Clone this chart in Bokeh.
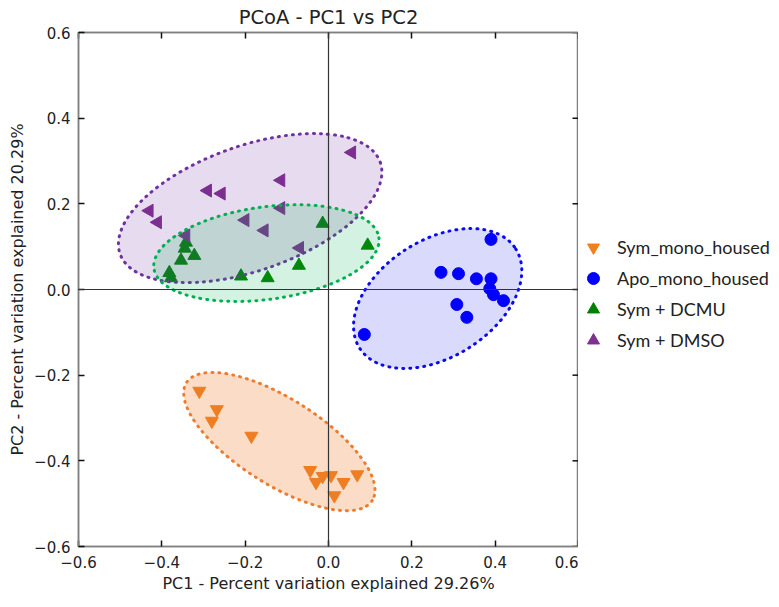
import numpy as np
from bokeh.plotting import figure
from bokeh.layouts import row
from bokeh.models import (LinearAxis, Span, Legend, LegendItem, Range1d,
                          FixedTicker, CustomJSTickFormatter)
from bokeh.embed import file_html
from bokeh.resources import INLINE

# ---- data ----
groups = ["Sym_mono_housed", "Apo_mono_housed", "Sym + DCMU", "Sym + DMSO"]

sym_x = [-0.310, -0.268, -0.280, -0.185, -0.044, -0.030, -0.014, 0.006, 0.036, 0.069, 0.014]
sym_y = [-0.237, -0.280, -0.307, -0.342, -0.422, -0.450, -0.436, -0.434, -0.450, -0.432, -0.481]

apo_x = [0.390, 0.270, 0.312, 0.355, 0.390, 0.387, 0.396, 0.420, 0.308, 0.332, 0.086]
apo_y = [0.117, 0.040, 0.037, 0.025, 0.025, 0.002, -0.012, -0.026, -0.035, -0.065, -0.105]

dcmu_x = [-0.014, 0.094, -0.071, -0.146, -0.210, -0.322, -0.354, -0.342, -0.345, -0.382, -0.378]
dcmu_y = [0.154, 0.103, 0.056, 0.027, 0.031, 0.079, 0.068, 0.110, 0.096, 0.039, 0.027]

dmso_x = [0.056, -0.114, -0.290, -0.257, -0.430, -0.410, -0.114, -0.200, -0.154, -0.069, -0.342]
dmso_y = [0.320, 0.255, 0.231, 0.224, 0.184, 0.157, 0.190, 0.162, 0.138, 0.097, 0.126]

tick_values = [-0.6, -0.4, -0.2, 0.0, 0.2, 0.4, 0.6]

# hand-drawn group ellipses (annotation shapes), in data units, same group order
ellipse_cx = [-0.118, 0.262, -0.149, -0.188]
ellipse_cy = [-0.355, -0.021, 0.085, 0.190]
ellipse_w = [0.528, 0.444, 0.545, 0.662]
ellipse_h = [0.200, 0.273, 0.216, 0.291]
ellipse_angle_deg = [-32.4, 32.4, 7.8, 19.4]

# ---- styles ----
marker_colors = {"Sym_mono_housed": "#F07F1E", "Apo_mono_housed": "#0000FF",
                 "Sym + DCMU": "#008000", "Sym + DMSO": "#80308E"}
ring_colors = {"Sym_mono_housed": "#EE7C30", "Apo_mono_housed": "#0A0AF0",
               "Sym + DCMU": "#00B050", "Sym + DMSO": "#7030A0"}
fill_alpha = {"Sym_mono_housed": 0.27, "Apo_mono_housed": 0.15,
              "Sym + DCMU": 0.17, "Sym + DMSO": 0.17}
markers = {"Sym_mono_housed": "inverted_triangle", "Apo_mono_housed": "circle",
           "Sym + DCMU": "triangle", "Sym + DMSO": "triangle"}
angles = {"Sym_mono_housed": 0.0, "Apo_mono_housed": 0.0,
          "Sym + DCMU": 0.0, "Sym + DMSO": np.pi / 2}
sizes = {"Sym_mono_housed": 13, "Apo_mono_housed": 12,
         "Sym + DCMU": 13, "Sym + DMSO": 13}

data = {"Sym_mono_housed": (sym_x, sym_y), "Apo_mono_housed": (apo_x, apo_y),
        "Sym + DCMU": (dcmu_x, dcmu_y), "Sym + DMSO": (dmso_x, dmso_y)}

SPINE = "#808080"
TICK = "#111111"

p = figure(frame_width=500, frame_height=514,
           x_range=Range1d(-0.6, 0.6), y_range=Range1d(-0.6, 0.6),
           output_backend="svg", toolbar_location=None,
           title="PCoA - PC1 vs PC2",
           x_axis_label="PC1 - Percent variation explained 29.26%",
           y_axis_label="PC2 - Percent variation explained 20.29%",
           min_border_left=78, min_border_top=0, min_border_bottom=30,
           min_border_right=0)
p.xgrid.visible = False
p.ygrid.visible = False
p.outline_line_color = SPINE
p.outline_line_width = 1.5
p.background_fill_color = "white"
p.border_fill_color = "white"

p.title.align = "center"
p.title.text_font = "DejaVu Sans"
p.title.text_font_size = "19.5px"
p.title.text_font_style = "normal"
p.title.text_color = "#222222"
p.title.standoff = 7

fmt = CustomJSTickFormatter(code="return (tick < -1e-9 ? '\u2212' : '') + Math.abs(tick).toFixed(1);")


def style_axis(ax, labels=True, standoff=8, label_standoff=8):
    ax.ticker = FixedTicker(ticks=tick_values)
    ax.axis_line_color = SPINE
    ax.axis_line_width = 1.5
    ax.major_tick_in = 6
    ax.major_tick_out = 0
    ax.major_tick_line_color = TICK
    ax.major_tick_line_width = 1.5
    ax.minor_tick_line_color = None
    if labels:
        ax.formatter = fmt
        ax.major_label_text_font = "DejaVu Sans"
        ax.major_label_text_font_size = "15px"
        ax.major_label_text_color = "#222222"
        ax.major_label_standoff = standoff
        ax.axis_label_text_font = "DejaVu Sans"
        ax.axis_label_text_font_size = "16px"
        ax.axis_label_text_font_style = "normal"
        ax.axis_label_text_color = "#222222"
        ax.axis_label_standoff = label_standoff
    else:
        ax.major_label_text_color = None
        ax.major_label_text_font_size = "1px"
        ax.major_label_standoff = 0


for ax in p.xaxis:
    style_axis(ax, standoff=9, label_standoff=3)
for ax in p.yaxis:
    style_axis(ax, standoff=8, label_standoff=4)

top_ax = LinearAxis()
style_axis(top_ax, labels=False)
p.add_layout(top_ax, "above")

# inward ticks on the right spine (half of each dash is clipped by the frame)
p.scatter(x=[p.x_range.end] * len(tick_values), y=tick_values, marker="dash",
          size=12, line_color=TICK, line_width=1.5)

# zero lines
p.add_layout(Span(location=0, dimension="height", line_color="#333333", line_width=1.2))
p.add_layout(Span(location=0, dimension="width", line_color="#333333", line_width=1.2))

for g in groups:
    xs, ys = data[g]
    p.scatter(xs, ys, marker=markers[g], angle=angles[g],
              size=sizes[g], fill_color=marker_colors[g],
              line_color=marker_colors[g], line_width=1)

# ellipses drawn over the points (purple first, then green, orange, blue)
for i in [3, 2, 0, 1]:
    g = groups[i]
    p.ellipse(x=ellipse_cx[i], y=ellipse_cy[i], width=ellipse_w[i], height=ellipse_h[i],
              angle=np.deg2rad(ellipse_angle_deg[i]),
              fill_color=ring_colors[g], fill_alpha=fill_alpha[g],
              line_color=ring_colors[g], line_width=3, line_dash="1 6",
              line_cap="round")

# ---- legend panel (separate blank figure to the right) ----
q = figure(width=193, height=591, x_range=Range1d(5, 6), y_range=Range1d(5, 6),
           output_backend="svg", toolbar_location=None, min_border=0)
q.axis.visible = False
q.grid.visible = False
q.outline_line_color = None
q.background_fill_color = "white"
q.border_fill_color = "white"

legend_renderers = {}
for g in groups:
    xs, ys = data[g]
    legend_renderers[g] = q.scatter(xs, ys, marker=markers[g], angle=angles[g],
                                    size=sizes[g], fill_color=marker_colors[g],
                                    line_color=marker_colors[g], line_width=1)

legend = Legend(items=[LegendItem(label=g, renderers=[legend_renderers[g]]) for g in groups],
                location=(0, 187))
legend.border_line_color = None
legend.background_fill_alpha = 0
legend.label_text_font = "Lato"
legend.label_text_font_size = "18px"
legend.label_text_color = "#222222"
legend.glyph_width = 30
legend.glyph_height = 30
legend.label_height = 20
legend.spacing = 1
legend.label_standoff = 9
legend.padding = 0
legend.margin = 0
q.add_layout(legend)

layout = row(p, q)
open("out.html", "w").write(file_html(layout, INLINE))
